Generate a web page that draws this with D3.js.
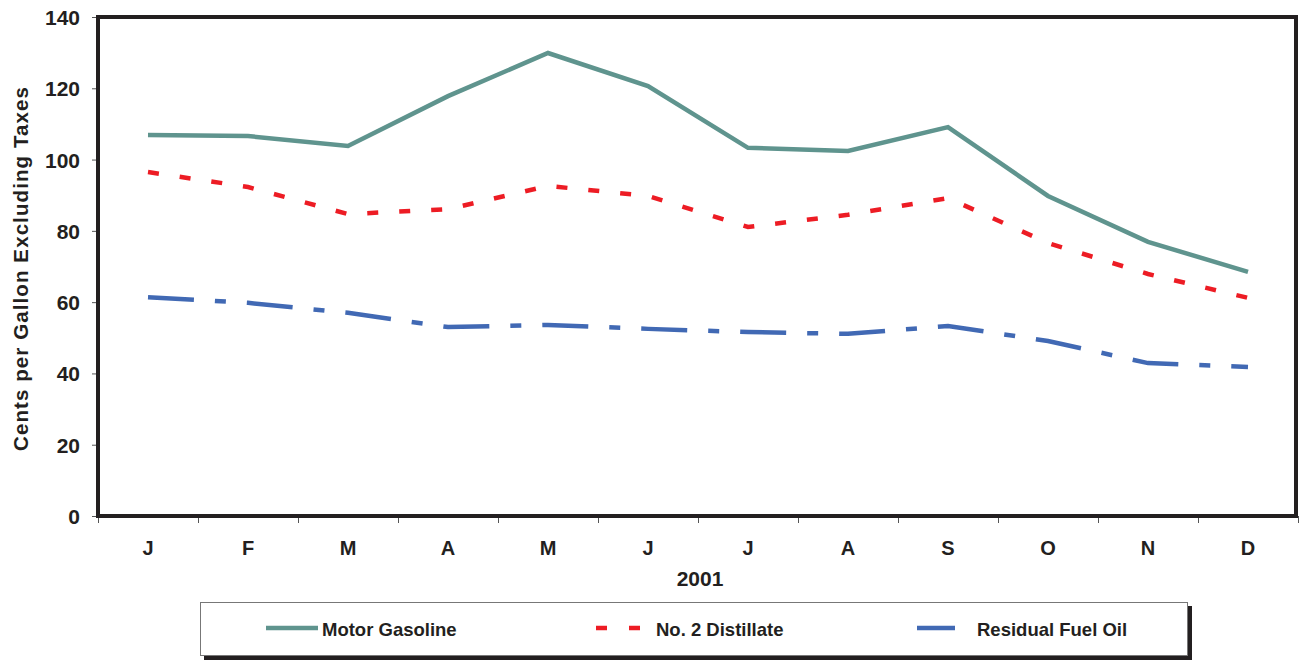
<!DOCTYPE html>
<html>
<head>
<meta charset="utf-8">
<script src="https://cdn.jsdelivr.net/npm/d3@7"></script>
<style>
  body { margin: 0; background: #fff; }
  text { font-family: "Liberation Sans", Arial, sans-serif; font-weight: bold; fill: #231f20; }
</style>
</head>
<body>
<script>
// months of 2001
var months = ["J", "F", "M", "A", "M", "J", "J", "A", "S", "O", "N", "D"];
var yTicks = [0, 20, 40, 60, 80, 100, 120, 140];

// cents per gallon excluding taxes
var motorGasoline = [106.9, 106.6, 103.8, 117.8, 129.9, 120.6, 103.3, 102.4, 109.1, 89.8, 76.9, 68.5];
var no2Distillate = [96.5, 92.3, 84.7, 86.1, 92.6, 89.8, 81.1, 84.5, 89.2, 76.6, 67.9, 61.2];
var residualFuelOil = [61.4, 59.8, 57.0, 53.0, 53.6, 52.5, 51.6, 51.1, 53.3, 49.1, 42.9, 41.8];

var seriesNames = ["Motor Gasoline", "No. 2 Distillate", "Residual Fuel Oil"];

var width = 1302, height = 662;
var plotLeft = 98, plotTop = 17, plotRight = 1298, plotBottom = 516;

var svg = d3.select("body").append("svg")
    .attr("width", width)
    .attr("height", height);

var x = d3.scaleBand()
    .domain(d3.range(months.length))
    .range([plotLeft, plotRight])
    .padding(0);

var xEdge = d3.scaleLinear()
    .domain([0, months.length])
    .range([plotLeft, plotRight]);

var y = d3.scaleLinear()
    .domain([0, 140])
    .range([plotBottom, plotTop]);

// y axis ticks + labels
var yAxis = svg.append("g")
    .attr("transform", "translate(" + plotLeft + ",0)")
    .call(d3.axisLeft(y).tickValues(yTicks).tickSize(6).tickPadding(12));
yAxis.select(".domain").remove();
yAxis.selectAll("line").attr("stroke", "#555").attr("stroke-width", 1);
yAxis.selectAll("text").style("font-size", "21px").attr("fill", "#231f20").attr("dy", "0.36em");

// x boundary ticks
var xTickAxis = svg.append("g")
    .attr("transform", "translate(0," + plotBottom + ")")
    .call(d3.axisBottom(xEdge).tickValues(d3.range(months.length + 1)).tickSize(7).tickFormat(""));
xTickAxis.select(".domain").remove();
xTickAxis.selectAll("line").attr("stroke", "#555").attr("stroke-width", 1);

// month labels at band centers
var xAxis = svg.append("g")
    .attr("transform", "translate(0," + plotBottom + ")")
    .call(d3.axisBottom(x).tickSize(0).tickPadding(25).tickFormat(function(i) { return months[i]; }));
xAxis.select(".domain").remove();
xAxis.selectAll("text").style("font-size", "20px").attr("fill", "#231f20");

// frame
svg.append("rect")
    .attr("x", plotLeft)
    .attr("y", plotTop)
    .attr("width", plotRight - plotLeft - 2)
    .attr("height", plotBottom - plotTop)
    .attr("fill", "none")
    .attr("stroke", "#231f20")
    .attr("stroke-width", 4);

// axis titles
svg.append("text")
    .attr("x", 700)
    .attr("y", 586)
    .attr("text-anchor", "middle")
    .style("font-size", "21px")
    .text("2001");

svg.append("text")
    .attr("transform", "translate(28," + 269 + ") rotate(-90)")
    .attr("text-anchor", "middle")
    .attr("textLength", 364)
    .style("font-size", "20.5px")
    .text("Cents per Gallon Excluding Taxes");

// lines
var series = [
  {name: seriesNames[0], values: motorGasoline, color: "#5f948e", dash: null},
  {name: seriesNames[1], values: no2Distillate, color: "#ed1c24", dash: "11,21"},
  {name: seriesNames[2], values: residualFuelOil, color: "#4169b4", dash: "46,21,11,21"}
];

var line = d3.line()
    .x(function(d, i) { return x(i) + x.bandwidth() / 2; })
    .y(function(d) { return y(d); });

svg.selectAll("path.series")
    .data(series)
  .enter().append("path")
    .attr("class", "series")
    .attr("d", function(d) { return line(d.values); })
    .attr("fill", "none")
    .attr("stroke", function(d) { return d.color; })
    .attr("stroke-width", 4.5)
    .attr("stroke-dasharray", function(d) { return d.dash; });

// legend
var lg = svg.append("g");
lg.append("rect")
    .attr("x", 204).attr("y", 606)
    .attr("width", 988).attr("height", 54)
    .attr("fill", "#231f20");
lg.append("rect")
    .attr("x", 200.5).attr("y", 602.5)
    .attr("width", 987).attr("height", 53)
    .attr("fill", "#fff")
    .attr("stroke", "#777")
    .attr("stroke-width", 1);

var legendItems = [
  {s: series[0], x1: 266, x2: 318, tx: 322, dash: null},
  {s: series[1], x1: 596, x2: 641, tx: 656, dash: "11,22"},
  {s: series[2], x1: 917, x2: 955, tx: 977, dash: null}
];

legendItems.forEach(function(d) {
  lg.append("line")
      .attr("x1", d.x1).attr("x2", d.x2)
      .attr("y1", 628).attr("y2", 628)
      .attr("stroke", d.s.color)
      .attr("stroke-width", 4.5)
      .attr("stroke-dasharray", d.dash);
  lg.append("text")
      .attr("x", d.tx)
      .attr("y", 629)
      .attr("dy", "0.36em")
      .style("font-size", "18.5px")
      .text(d.s.name);
});
</script>
</body>
</html>
